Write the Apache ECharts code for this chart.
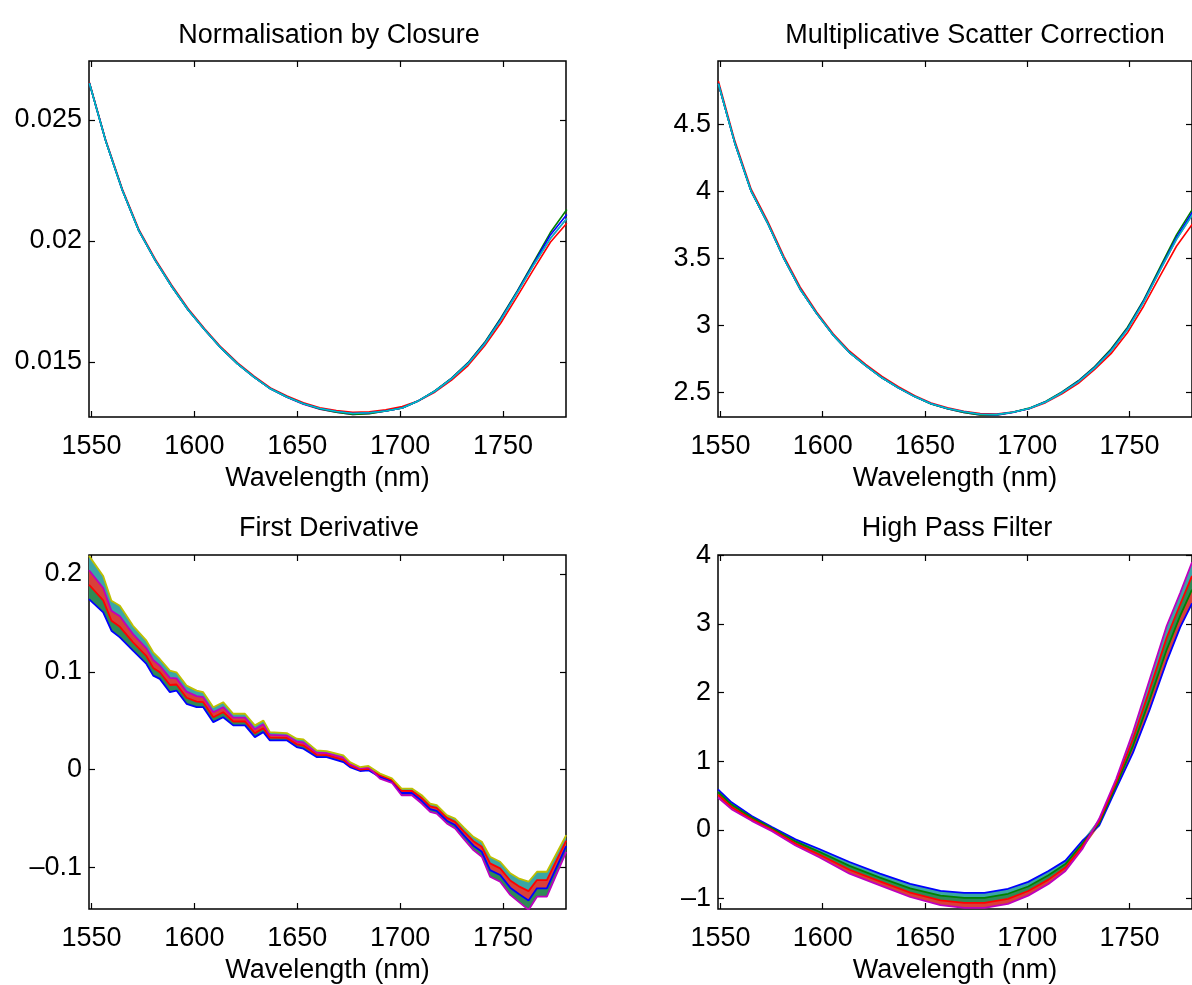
<!DOCTYPE html>
<html><head><meta charset="utf-8">
<script src="https://cdn.jsdelivr.net/npm/echarts@6/dist/echarts.min.js"></script>
<style>html,body{margin:0;padding:0;background:#fff}#c{width:1192px;height:985px}</style>
</head><body><div id="c"></div>
<script>
// ---------- data ----------
const xTicks = [1550, 1600, 1650, 1700, 1750];
const closureTicks = [0.015, 0.02, 0.025];
const mscTicks = [2.5, 3, 3.5, 4, 4.5];
const derivTicks = [-0.1, 0, 0.1, 0.2];
const highTicks = [-1, 0, 1, 2, 3, 4];

const wlSmooth = [1549,1557,1565,1573,1581,1589,1597,1605,1613,1621,1629,1637,1645,1653,1661,1669,1677,1685,1693,1701,1709,1717,1725,1733,1741,1749,1757,1765,1773,1781];

const closureCyan    = [0.02652,0.02411,0.02210,0.02043,0.01920,0.01812,0.01715,0.01633,0.01557,0.01492,0.01437,0.01389,0.01355,0.01327,0.01308,0.01295,0.01287,0.01290,0.01297,0.01310,0.01340,0.01380,0.01431,0.01493,0.01574,0.01675,0.01788,0.01903,0.02010,0.02093];
const closureGreen   = [0.02652,0.02411,0.02210,0.02043,0.01920,0.01812,0.01715,0.01633,0.01557,0.01492,0.01437,0.01389,0.01355,0.01327,0.01306,0.01292,0.01283,0.01286,0.01297,0.01310,0.01340,0.01381,0.01433,0.01497,0.01580,0.01683,0.01795,0.01915,0.02035,0.02130];
const closureBlue    = [0.02652,0.02411,0.02210,0.02043,0.01920,0.01812,0.01715,0.01633,0.01557,0.01492,0.01437,0.01389,0.01355,0.01327,0.01308,0.01295,0.01287,0.01290,0.01297,0.01310,0.01340,0.01380,0.01432,0.01495,0.01577,0.01679,0.01792,0.01908,0.02025,0.02110];
const closureRed     = [0.02655,0.02415,0.02215,0.02048,0.01925,0.01817,0.01720,0.01637,0.01561,0.01496,0.01441,0.01393,0.01359,0.01331,0.01311,0.01299,0.01292,0.01294,0.01302,0.01316,0.01340,0.01376,0.01425,0.01485,0.01566,0.01662,0.01772,0.01885,0.01995,0.02073];
const closureMagenta = [0.02652,0.02411,0.02210,0.02043,0.01920,0.01812,0.01715,0.01633,0.01557,0.01492,0.01437,0.01389,0.01354,0.01325,0.01305,0.01292,0.01283,0.01287,0.01297,0.01310,0.01340,0.01380,0.01431,0.01493,0.01574,0.01675,0.01788,0.01903,0.02010,0.02093];

const mscCyan    = [4.80,4.36,4.00,3.765,3.50,3.27,3.09,2.93,2.80,2.70,2.61,2.535,2.47,2.417,2.382,2.357,2.339,2.336,2.353,2.382,2.43,2.499,2.58,2.684,2.81,2.969,3.176,3.412,3.642,3.83];
const mscGreen   = [4.80,4.36,4.00,3.765,3.50,3.27,3.09,2.93,2.80,2.70,2.61,2.535,2.47,2.415,2.379,2.352,2.334,2.333,2.353,2.384,2.434,2.505,2.588,2.694,2.825,2.985,3.19,3.435,3.675,3.87];
const mscBlue    = [4.80,4.36,4.00,3.765,3.50,3.27,3.09,2.93,2.80,2.70,2.61,2.535,2.47,2.417,2.382,2.357,2.339,2.336,2.353,2.382,2.431,2.501,2.583,2.688,2.815,2.975,3.183,3.42,3.655,3.85];
const mscRed     = [4.82,4.375,4.015,3.78,3.515,3.285,3.10,2.94,2.81,2.71,2.62,2.543,2.477,2.423,2.387,2.361,2.343,2.340,2.355,2.380,2.425,2.49,2.568,2.672,2.79,2.945,3.145,3.37,3.59,3.76];
const mscMagenta = [4.80,4.36,4.00,3.765,3.50,3.27,3.09,2.93,2.80,2.70,2.61,2.535,2.47,2.417,2.38,2.352,2.334,2.332,2.351,2.382,2.43,2.499,2.58,2.684,2.81,2.969,3.176,3.412,3.642,3.83];

const wlDeriv = [1548.8,1555.7,1559.7,1563.8,1570.2,1576.7,1580.0,1583.2,1588.1,1591.3,1596.2,1601.1,1604.3,1609.2,1614.0,1618.9,1624.6,1629.4,1633.5,1636.7,1644.9,1649.7,1653.0,1659.4,1664.3,1672.4,1675.6,1680.5,1684.6,1690.2,1696.0,1700.7,1705.7,1710.5,1714.6,1717.8,1722.7,1726.7,1731.0,1735.6,1739.7,1743.7,1748.6,1753.5,1757.5,1762.4,1766.5,1771.3,1780.7];
const derivBlue    = [0.1743,0.1607,0.1420,0.1352,0.1216,0.1080,0.0961,0.0928,0.0791,0.0808,0.0673,0.0638,0.0638,0.0485,0.0536,0.0452,0.0452,0.0332,0.0383,0.0299,0.0299,0.0230,0.0214,0.0128,0.0128,0.0077,0.0026,-0.0014,-0.0007,-0.0075,-0.0120,-0.0239,-0.0239,-0.0319,-0.0404,-0.0421,-0.0522,-0.0567,-0.0672,-0.0778,-0.0840,-0.1027,-0.1078,-0.1207,-0.1270,-0.1338,-0.1214,-0.1214,-0.0783];
const derivRed     = [0.1890,0.1731,0.1522,0.1460,0.1301,0.1159,0.1040,0.0996,0.0865,0.0870,0.0735,0.0695,0.0689,0.0536,0.0587,0.0492,0.0492,0.0372,0.0423,0.0327,0.0324,0.0259,0.0246,0.0151,0.0149,0.0100,0.0043,-0.0001,0.0008,-0.0058,-0.0105,-0.0217,-0.0217,-0.0290,-0.0375,-0.0392,-0.0494,-0.0534,-0.0633,-0.0732,-0.0789,-0.0959,-0.1010,-0.1134,-0.1191,-0.1242,-0.1129,-0.1129,-0.0727];
const derivMagenta = [0.2038,0.1856,0.1624,0.1567,0.1385,0.1239,0.1120,0.1063,0.0938,0.0933,0.0797,0.0751,0.0740,0.0587,0.0638,0.0531,0.0531,0.0412,0.0463,0.0355,0.0348,0.0287,0.0277,0.0174,0.0169,0.0123,0.0060,0.0013,0.0022,-0.0092,-0.0135,-0.0262,-0.0262,-0.0347,-0.0432,-0.0449,-0.0550,-0.0601,-0.0712,-0.0823,-0.0891,-0.1095,-0.1146,-0.1281,-0.1350,-0.1434,-0.1299,-0.1299,-0.0840];
const derivYellow  = [0.2185,0.1980,0.1726,0.1675,0.1470,0.1318,0.1199,0.1131,0.1012,0.0995,0.0859,0.0808,0.0791,0.0638,0.0689,0.0571,0.0571,0.0452,0.0503,0.0383,0.0373,0.0316,0.0309,0.0197,0.0190,0.0146,0.0077,0.0026,0.0037,-0.0041,-0.0090,-0.0194,-0.0194,-0.0262,-0.0347,-0.0364,-0.0466,-0.0500,-0.0593,-0.0687,-0.0738,-0.0891,-0.0942,-0.1060,-0.1111,-0.1146,-0.1044,-0.1044,-0.0670];

const wlHigh = [1548.8,1555.4,1565.3,1575.2,1586.7,1598.3,1613.1,1628.0,1642.8,1657.6,1669.2,1679.1,1690.6,1700.5,1710.4,1718.7,1727.0,1735.2,1743.5,1751.7,1759.9,1768.2,1774.8,1780.6];
const highBlue    = [0.59,0.40,0.20,0.04,-0.14,-0.28,-0.47,-0.64,-0.79,-0.89,-0.92,-0.92,-0.86,-0.76,-0.60,-0.45,-0.16,0.06,0.60,1.12,1.75,2.45,2.95,3.30];
const highGreen   = [0.55,0.367,0.177,0.02,-0.17,-0.32,-0.527,-0.697,-0.853,-0.96,-0.993,-0.993,-0.933,-0.827,-0.663,-0.50,-0.20,0.093,0.647,1.22,1.897,2.623,3.117,3.50];
const highRed     = [0.51,0.333,0.153,0.00,-0.20,-0.36,-0.583,-0.753,-0.917,-1.03,-1.067,-1.067,-1.007,-0.893,-0.727,-0.55,-0.24,0.127,0.693,1.32,2.043,2.797,3.283,3.70];
const highMagenta = [0.47,0.30,0.13,-0.02,-0.23,-0.40,-0.64,-0.81,-0.98,-1.10,-1.14,-1.14,-1.08,-0.96,-0.79,-0.60,-0.28,0.16,0.74,1.42,2.19,2.97,3.45,3.90];

const titles = ['Normalisation by Closure', 'Multiplicative Scatter Correction', 'First Derivative', 'High Pass Filter'];
const xName = 'Wavelength (nm)';

// ---------- chart ----------
const FONT = "'Liberation Sans', Arial, Helvetica, sans-serif";
const X_MIN = 1548.8, X_MAX = 1780.6;
const C = {b:'#0000FF', g:'#008000', r:'#FF0000', c:'#00BFBF', m:'#BF00BF', y:'#BFBF00', k:'#404040'};
const grids = [
  {left: 89,  top: 61,  width: 477, height: 356},
  {left: 718, top: 61,  width: 477, height: 356},
  {left: 89,  top: 555, width: 477, height: 355},
  {left: 718, top: 555, width: 477, height: 355}
];
const yRanges = [[0.012725, 0.02744], [2.318, 4.97], [-0.1425, 0.2194], [-1.155, 4.005]];
const yTickSets = [closureTicks, mscTicks, derivTicks, highTicks];
const fmt = v => String(v).replace('-', '\u2013');
const tickStyle = {color: '#000', width: 1.2};

const xAxis = [], yAxis = [];
grids.forEach((g, gi) => {
  xAxis.push({type: 'value', gridIndex: gi, min: X_MIN, max: X_MAX, position: 'bottom',
    axisLine: {show: false, onZero: false}, splitLine: {show: false},
    axisTick: {inside: true, length: 6, customValues: xTicks, lineStyle: tickStyle},
    axisLabel: {customValues: xTicks, margin: 16, color: '#000', fontSize: 27, fontFamily: FONT, formatter: v => String(v)},
    name: xName, nameLocation: 'middle', nameGap: 48,
    nameTextStyle: {color: '#000', fontSize: 27, fontFamily: FONT}});
  xAxis.push({type: 'value', gridIndex: gi, min: X_MIN, max: X_MAX, position: 'top',
    axisLine: {show: false, onZero: false}, splitLine: {show: false},
    axisTick: {inside: true, length: 6, customValues: xTicks, lineStyle: tickStyle},
    axisLabel: {show: false}});
  yAxis.push({type: 'value', gridIndex: gi, min: yRanges[gi][0], max: yRanges[gi][1], position: 'left',
    axisLine: {show: false, onZero: false}, splitLine: {show: false},
    axisTick: {inside: true, length: 6, customValues: yTickSets[gi], lineStyle: tickStyle},
    axisLabel: {customValues: yTickSets[gi], margin: 7, color: '#000', fontSize: 27, fontFamily: FONT, formatter: fmt}});
  yAxis.push({type: 'value', gridIndex: gi, min: yRanges[gi][0], max: yRanges[gi][1], position: 'right',
    axisLine: {show: false, onZero: false}, splitLine: {show: false},
    axisTick: {inside: true, length: 6, customValues: yTickSets[gi], lineStyle: tickStyle},
    axisLabel: {show: false}});
});

function line(p, xs, ys, color, width) {
  return {type: 'line', xAxisIndex: 2 * p, yAxisIndex: 2 * p, data: xs.map((x, i) => [x, ys[i]]),
    symbol: 'none', showSymbol: false, lineStyle: {color, width}, itemStyle: {color},
    silent: true, animation: false, clip: true, z: 3};
}
// filled stripes between the sorted traces (bottom to top), one colour per stripe
function stripes(p, xs, lines, colors) {
  const sorted = xs.map((_, i) => lines.map(l => l[i]).sort((a, b) => a - b));
  return colors.map((color, k) => ({type: 'custom', xAxisIndex: 2 * p, yAxisIndex: 2 * p, data: [[xs[0], sorted[0][k]]],
    clip: true, silent: true, animation: false, z: 2,
    renderItem: (params, api) => {
      const pts = [];
      for (let i = 0; i < xs.length; i++) pts.push(api.coord([xs[i], sorted[i][k + 1]]));
      for (let i = xs.length - 1; i >= 0; i--) pts.push(api.coord([xs[i], sorted[i][k]]));
      return {type: 'polygon', shape: {points: pts}, style: {fill: color}};
    }}));
}

const series = [
  line(0, wlSmooth, closureRed, C.r, 1.6),
  line(0, wlSmooth, closureMagenta, C.m, 1.6),
  line(0, wlSmooth, closureGreen, C.g, 1.6),
  line(0, wlSmooth, closureBlue, C.b, 1.6),
  line(0, wlSmooth, closureCyan, C.c, 1.6),
  line(1, wlSmooth, mscRed, C.r, 1.6),
  line(1, wlSmooth, mscMagenta, C.m, 1.6),
  line(1, wlSmooth, mscGreen, C.g, 1.6),
  line(1, wlSmooth, mscBlue, C.b, 1.6),
  line(1, wlSmooth, mscCyan, C.c, 1.6),
  ...stripes(2, wlDeriv, [derivBlue, derivRed, derivMagenta, derivYellow], ['#2f8a55', '#d8403a', '#3aa6a6']),
  line(2, wlDeriv, derivBlue, C.b, 1.8),
  line(2, wlDeriv, derivRed, C.r, 1.8),
  line(2, wlDeriv, derivMagenta, C.m, 1.8),
  line(2, wlDeriv, derivYellow, C.y, 1.8),
  ...stripes(3, wlHigh, [highBlue, highGreen, highRed, highMagenta], ['#d8403a', '#2f8a55', '#3aa6a6']),
  line(3, wlHigh, highBlue, C.b, 1.8),
  line(3, wlHigh, highGreen, C.g, 1.8),
  line(3, wlHigh, highRed, C.r, 1.8),
  line(3, wlHigh, highMagenta, C.m, 1.8)
];

const titleCenters = [[329, 22], [975, 22], [329, 515], [957, 515]];
const title = titles.map((t, i) => ({text: t, left: titleCenters[i][0], top: titleCenters[i][1], textAlign: 'center',
  padding: 0, textStyle: {color: '#000', fontSize: 27, fontWeight: 'normal', fontFamily: FONT}}));

const chart = echarts.init(document.getElementById('c'), null, {renderer: 'canvas'});
chart.setOption({
  animation: false,
  backgroundColor: '#fff',
  title,
  grid: grids.map(g => Object.assign({show: true, borderColor: '#000', borderWidth: 1.5, backgroundColor: 'transparent', containLabel: false}, g)),
  xAxis, yAxis, series
});
</script></body></html>
